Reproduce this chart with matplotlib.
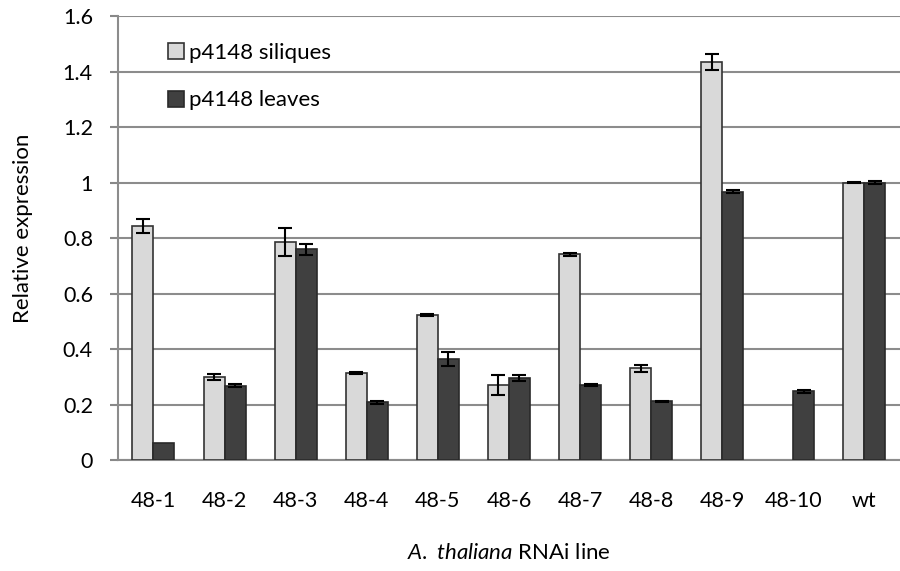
import matplotlib.pyplot as plt
import numpy as np

plt.rcParams['font.family'] = ['Lato', 'DejaVu Sans']
plt.rcParams['mathtext.fontset'] = 'custom'
plt.rcParams['mathtext.it'] = 'Lato:italic'
plt.rcParams['mathtext.rm'] = 'Lato'

lines = ['48-1', '48-2', '48-3', '48-4', '48-5', '48-6', '48-7', '48-8', '48-9', '48-10', 'wt']
siliques = [0.845, 0.300, 0.785, 0.313, 0.524, 0.271, 0.742, 0.331, 1.435, np.nan, 1.0]
siliques_err = [0.025, 0.010, 0.050, 0.003, 0.004, 0.035, 0.005, 0.012, 0.028, np.nan, 0.003]
leaves = [0.062, 0.268, 0.760, 0.208, 0.365, 0.297, 0.270, 0.212, 0.967, 0.248, 1.0]
leaves_err = [np.nan, 0.005, 0.020, 0.005, 0.025, 0.010, 0.004, 0.003, 0.005, 0.005, 0.005]

fig = plt.figure(figsize=(9, 5.71), dpi=100)
ax = fig.add_axes([0.131, 0.194, 0.869, 0.778])

x = np.arange(len(lines))
w = 0.295
ekw = dict(ecolor='black', elinewidth=1.5, capsize=5, capthick=1.5)
ax.bar(x - w/2, siliques, w, yerr=siliques_err, color='#d9d9d9', edgecolor='#333333',
       linewidth=1.2, label='p4148 siliques', error_kw=ekw, zorder=3)
ax.bar(x + w/2, leaves, w, yerr=leaves_err, color='#404040', edgecolor='#2a2a2a',
       linewidth=1.2, label='p4148 leaves', error_kw=ekw, zorder=3)

ax.set_xlim(-0.5, len(lines) - 0.5)
ax.set_ylim(0, 1.6)
ax.set_yticks(np.arange(0, 1.61, 0.2))
ax.set_yticklabels(['0', '0.2', '0.4', '0.6', '0.8', '1', '1.2', '1.4', '1.6'])
ax.set_xticks(x)
ax.set_xticklabels(lines)
ax.tick_params(axis='y', labelsize=15.5, length=6, color='#888888', width=1.5, pad=12)
ax.tick_params(axis='x', labelsize=15.5, length=0, pad=22)
ax.yaxis.grid(True, color='#8c8c8c', linewidth=1.5, zorder=0)
ax.set_axisbelow(True)
for s in ['top', 'right']:
    ax.spines[s].set_visible(False)
for s in ['left', 'bottom']:
    ax.spines[s].set_color('#8c8c8c')
    ax.spines[s].set_linewidth(1.5)

fig.text(23/900, 1 - 228/571, 'Relative expression', rotation=90, fontsize=16,
         ha='center', va='center')
fig.text(509/900, 1 - 553/571, r'$\it{A.\ thaliana}$ RNAi line', fontsize=16,
         ha='center', va='center')

ax.legend(loc='upper left', bbox_to_anchor=(0.038, 0.985), frameon=False, fontsize=16,
          handlelength=0.75, handleheight=0.75, handletextpad=0.2, labelspacing=1.25)

fig.savefig('out.png', dpi=100)
